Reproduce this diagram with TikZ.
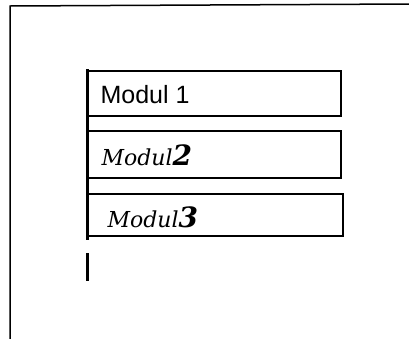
\documentclass[tikz,border=0pt]{standalone}
\usepackage{fontspec}
\setmainfont{Liberation Sans}
\newfontfamily\handfont{DejaVu Serif}
\begin{document}
\begin{tikzpicture}[x=1pt,y=-1pt,
  frameline/.style={line width=1.5pt},
  modbox/.style={draw,line width=1.6pt,minimum width=253pt,anchor=north west,inner sep=0pt},
  spine/.style={line width=3pt}]
\useasboundingbox (0,0) rectangle (409,338);
\fill[white] (0,0) rectangle (409,338);
\draw[frameline] (10,340) -- (10,6) -- (409,4);
\node[modbox,minimum height=45pt] (m1) at (87,70) {};
\node[modbox,minimum height=47pt] (m2) at (87,130) {};
\node[modbox,minimum height=42pt,minimum width=255pt] (m3) at (87,193) {};
\node[anchor=west,font=\fontsize{25}{25}\selectfont] (t1) at (97,95) {Modul 1};
\node[anchor=west,font=\handfont\itshape\fontsize{22}{22}\selectfont] (t2) at (98,155) {Modul\textbf{\fontsize{28}{28}\selectfont 2}};
\node[anchor=west,font=\handfont\itshape\fontsize{22}{22}\selectfont] (t3) at (104,217) {Modul\textbf{\fontsize{28}{28}\selectfont 3}};
\coordinate (s1) at (87,69);
\coordinate (s2) at (87,240);
\coordinate (s3) at (87,253);
\coordinate (s4) at (87,281);
\draw[spine] (s1) -- (s2);
\draw[spine] (s3) -- (s4);
\end{tikzpicture}
\end{document}
